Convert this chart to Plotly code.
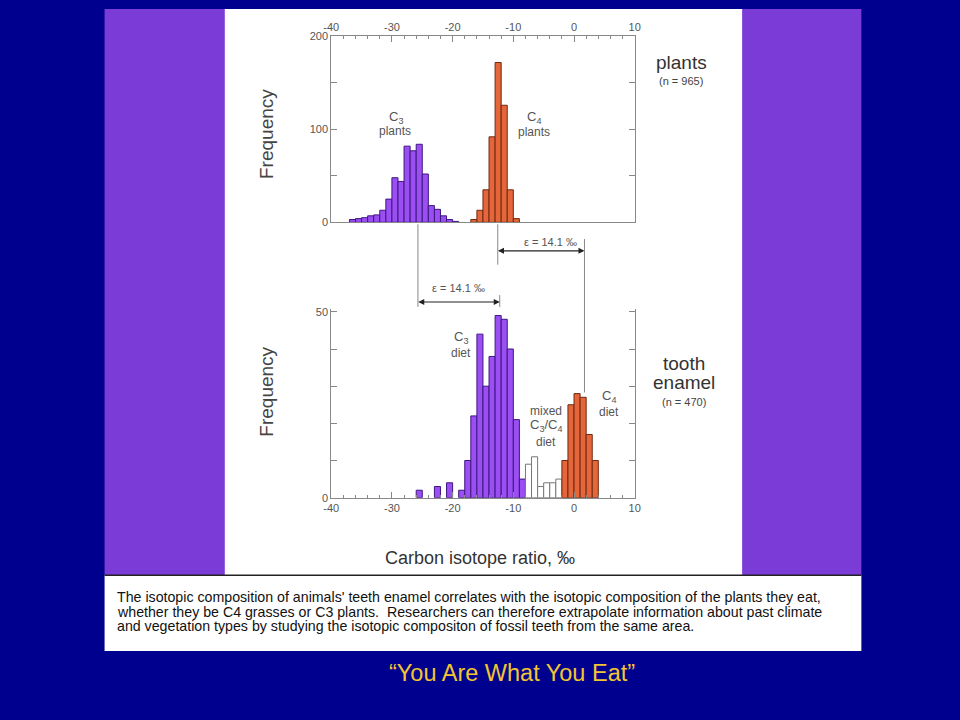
import plotly.graph_objects as go

# ---------------- data ----------------
# top panel: plants (bin lower edges, 1 per mil wide)
plant_c3_edges = [-37, -36, -35, -34, -33, -32, -31, -30, -29, -28, -27, -26, -25, -24, -23, -22, -21, -20]
plant_c3_counts = [3, 4, 5, 7, 8, 13, 25, 48, 44, 82, 77, 84, 52, 18, 14, 7, 3, 1]
plant_c4_edges = [-17, -16, -15, -14, -13, -12, -11, -10]
plant_c4_counts = [3, 13, 35, 92, 172, 126, 35, 4]

# bottom panel: tooth enamel
enamel_c3_edges = [-26, -23, -21, -19, -18, -17, -16, -15, -14, -13, -12, -11, -10, -9]
enamel_c3_counts = [2, 3, 4, 2, 10, 22, 44, 30, 38, 49, 48, 40, 21, 5]
enamel_mixed_edges = [-8, -7, -6, -5, -4, -3]
enamel_mixed_counts = [9, 11, 3, 4, 4, 5]
enamel_c4_edges = [-2, -1, 0, 1, 2, 3]
enamel_c4_counts = [10, 25, 28, 27, 17, 10]

x_ticks = [-40, -30, -20, -10, 0, 10]
x_tick_text = ["-40", "-30", "-20", "-10", "0", "10"]
top_y_ticks = [0, 50, 100, 150, 200]
top_y_text = ["0", "", "100", "", "200"]
bot_y_ticks = [0, 10, 20, 30, 40, 50]
bot_y_text = ["0", "", "", "", "", "50"]

caption_lines = [
    "The isotopic composition of animals' teeth enamel correlates with the isotopic composition of the plants they eat,",
    "whether they be C4 grasses or C3 plants.  Researchers can therefore extrapolate information about past climate",
    "and vegetation types by studying the isotopic compositon of fossil teeth from the same area.",
]
slide_title = "\u201cYou Are What You Eat\u201d"

# ---------------- styling ----------------
W, H = 960, 720
NAVY = "#00008F"
PURPLE_BAND = "#7B3BD6"
BAR_PURPLE = "#9B4EF2"
BAR_PURPLE_LINE = "#3E1780"
BAR_ORANGE = "#E4663A"
BAR_ORANGE_LINE = "#6E2A10"
AX = "#888888"
TXT = "#555555"
FONT = "Liberation Sans, Arial, sans-serif"


def X(px):
    return px / W


def Y(py):
    return 1 - py / H


def centers(edges):
    return [e + 0.5 for e in edges]


fig = go.Figure()

def bar(edges, counts, fill, line, xa, ya):
    fig.add_trace(go.Bar(
        x=centers(edges), y=counts, width=1,
        marker=dict(color=fill, line=dict(color=line, width=1)),
        xaxis=xa, yaxis=ya, showlegend=False, hoverinfo="x+y",
    ))

bar(plant_c3_edges, plant_c3_counts, BAR_PURPLE, BAR_PURPLE_LINE, "x", "y")
bar(plant_c4_edges, plant_c4_counts, BAR_ORANGE, BAR_ORANGE_LINE, "x", "y")
bar(enamel_c3_edges, enamel_c3_counts, BAR_PURPLE, BAR_PURPLE_LINE, "x2", "y2")
bar(enamel_mixed_edges, enamel_mixed_counts, "white", "#777777", "x2", "y2")
bar(enamel_c4_edges, enamel_c4_counts, BAR_ORANGE, BAR_ORANGE_LINE, "x2", "y2")

tickfont = dict(family=FONT, size=11, color=TXT)
xdom = [X(328), X(636)]

common_x = dict(range=[-40, 10], tickvals=x_ticks, ticktext=x_tick_text,
                showline=True, linecolor=AX, linewidth=1,
                ticks="inside", ticklen=6, tickcolor=AX, tickfont=tickfont,
                minor=dict(dtick=2, ticks="inside", ticklen=3, tickcolor=AX),
                showgrid=False, zeroline=False, fixedrange=True)

fig.update_layout(
    width=W, height=H,
    margin=dict(l=0, r=0, t=0, b=0),
    paper_bgcolor=NAVY, plot_bgcolor="white",
    barmode="overlay",
    font=dict(family=FONT, color=TXT),
    xaxis=dict(domain=xdom, anchor="y", side="top", mirror=True, **common_x),
    yaxis=dict(domain=[Y(220), Y(31)], anchor="x", range=[0, 200],
               tickvals=top_y_ticks, ticktext=top_y_text,
               showline=True, linecolor=AX, mirror="ticks", ticks="inside", ticklen=6,
               tickcolor=AX, tickfont=tickfont, showgrid=False, zeroline=False, fixedrange=True),
    xaxis2=dict(domain=xdom, anchor="y2", side="bottom", **common_x),
    yaxis2=dict(domain=[Y(500), Y(308)], anchor="x2", range=[0, 50.8],
                tickvals=bot_y_ticks, ticktext=bot_y_text,
                showline=True, linecolor=AX, mirror="ticks", ticks="inside", ticklen=6,
                tickcolor=AX, tickfont=tickfont, showgrid=False, zeroline=False, fixedrange=True),
)

shapes = []
# slide background panels
shapes.append(dict(type="rect", xref="paper", yref="paper", x0=X(98), x1=X(866), y0=Y(579), y1=Y(3),
                   fillcolor=PURPLE_BAND, line=dict(width=0), layer="below"))
shapes.append(dict(type="rect", xref="paper", yref="paper", x0=X(220), x1=X(745), y0=Y(579), y1=Y(3),
                   fillcolor="white", line=dict(width=0), layer="below"))
shapes.append(dict(type="rect", xref="paper", yref="paper", x0=X(98), x1=X(866), y0=Y(656), y1=Y(579),
                   fillcolor="white", line=dict(width=0), layer="below"))
shapes.append(dict(type="line", xref="paper", yref="paper", x0=X(98), x1=X(866), y0=Y(579), y1=Y(579),
                   line=dict(color="#222222", width=1.5)))

# epsilon guide lines
GL = dict(color="#888888", width=1)
for (px, py0, py1) in [(416, 222, 306), (497, 222, 263), (585, 237, 393), (499, 294, 306)]:
    shapes.append(dict(type="line", xref="paper", yref="paper", x0=X(px), x1=X(px),
                       y0=Y(py0), y1=Y(py1), line=GL))
fig.update_layout(shapes=shapes)

ann = []

def txt(t, px, py, size=12, color=TXT, **kw):
    ann.append(dict(text=t, x=X(px), y=Y(py), xref="paper", yref="paper", showarrow=False,
                    xanchor=kw.pop("xanchor", "center"), yanchor="middle",
                    font=dict(family=FONT, size=size, color=color), **kw))

def arrow(px0, px1, py):
    ann.append(dict(x=X(px1), y=Y(py), ax=px0 - px1, ay=0, xref="paper", yref="paper",
                    axref="pixel", ayref="pixel", text="", showarrow=True,
                    arrowhead=2, arrowside="end+start", arrowsize=1, arrowwidth=1.2,
                    arrowcolor="#222222", standoff=0, startstandoff=0))

arrow(497, 585, 249)
arrow(416, 499, 301)
txt("\u03b5 = 14.1 \u2030", 551, 240, 11)
txt("\u03b5 = 14.1 \u2030", 457, 287, 11)

txt("C<sub>3</sub>", 394, 113, 13)
txt("plants", 393, 127, 12)
txt("C<sub>4</sub>", 534, 113, 13)
txt("plants", 534, 128, 12)
txt("C<sub>3</sub>", 460, 337, 13)
txt("diet", 460, 353, 12)
txt("mixed", 546, 412, 12)
txt("C<sub>3</sub>/C<sub>4</sub>", 546, 427, 13)
txt("diet", 546, 443, 12)
txt("C<sub>4</sub>", 610, 397, 13)
txt("diet", 610, 413, 12)

txt("plants", 683, 57, 19, "#333333")
txt("(n = 965)", 683, 76, 11, "#444444")
txt("tooth", 686, 364, 19, "#333333")
txt("enamel", 686, 383, 19, "#333333")
txt("(n = 470)", 686, 403, 11, "#444444")

txt("Frequency", 263, 130, 19, "#444444", textangle=-90)
txt("Frequency", 262, 392, 19, "#444444", textangle=-90)
txt("Carbon isotope ratio, \u2030", 479, 561, 18, "#333333")

for i, line in enumerate(caption_lines):
    txt(line, 109, [601, 616, 631][i], 14.2, "#111111", xanchor="left")

txt(slide_title, 511, 678, 23.5, "#F2C531")

fig.update_layout(annotations=ann)
fig.write_html(
    "out.html",
    post_script=(
        "var s=document.createElement('style');"
        "s.textContent='html,body{margin:0!important;padding:0!important;overflow:hidden;background:" + NAVY + ";}';"
        "document.head.appendChild(s);"
    ),
)
